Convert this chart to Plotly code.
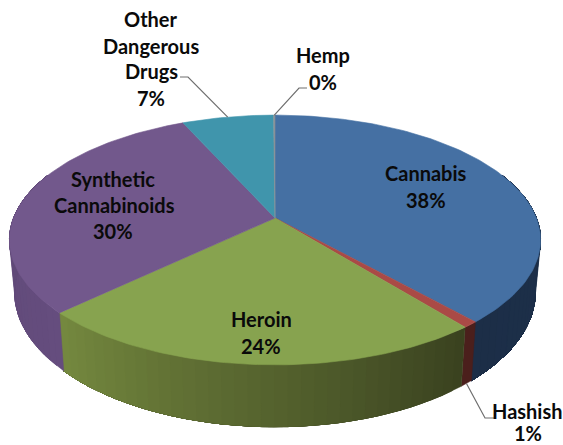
import math
import plotly.graph_objects as go

# Drug seizure shares, clockwise from twelve o'clock
categories = ["Cannabis", "Hashish", "Heroin", "Synthetic Cannabinoids", "Other Dangerous Drugs", "Hemp"]
shares = [38.4, 0.8, 23.7, 30.4, 6.6, 0.1]
top_colors = ["#4570a3", "#aa4a46", "#87a34f", "#72588c", "#4095ac", "#8b9298"]
wall_start = ["#1f3450", "#4b1f1c", "#75893f", "#654d7e", "#3a7488", "#666666"]
wall_end = ["#1c2e47", "#4b1f1c", "#39411f", "#5a4470", "#3a7488", "#666666"]

# Label lines: (text, x centre, y centre)
label_lines = [
    ("Cannabis", 426, 173), ("38%", 426, 200),
    ("Hashish", 527, 411), ("1%", 528, 433),
    ("Heroin", 261, 319), ("24%", 261, 346),
    ("Synthetic", 113, 179), ("Cannabinoids", 114, 205), ("30%", 113, 231),
    ("Other", 151, 19), ("Dangerous", 151, 46), ("Drugs", 151, 71), ("7%", 151, 98),
    ("Hemp", 323, 55), ("0%", 323, 82),
]
# Leader elbows per slice index: (elbow x, elbow y, end x, end y)
leaders = {1: (485, 418, 494, 418), 4: (188, 77, 180, 77), 5: (299, 88, 307, 88)}

# Perspective pie geometry
CX, CY = 275.0, 218.0
RX, RY = 261.4, 121.0
TILT = 0.176
WALL = 51.0
BASE_SHRINK = 0.02


def rim(share_pct, drop=0.0):
    """Screen position of the rim at a cumulative percentage, clockwise from the top."""
    t = 2 * math.pi * share_pct / 100
    a, d = math.sin(t), -math.cos(t)
    w = 1 - TILT * d
    scale = 1 - BASE_SHRINK * drop / WALL
    return CX + scale * RX * a / w, CY + (RY * d + drop) / w


def mix(c1, c2, f):
    p = [int(c1[i:i + 2], 16) for i in (1, 3, 5)]
    q = [int(c2[i:i + 2], 16) for i in (1, 3, 5)]
    return "#%02x%02x%02x" % tuple(round(p[i] + (q[i] - p[i]) * f) for i in range(3))


fig = go.Figure()
starts = [sum(shares[:i]) for i in range(len(shares))]

# Side wall: each band runs to the end of its slice and the next band paints
# over it, which keeps the shading free of seams between bands
for i, (s, v) in enumerate(zip(starts, shares)):
    n = max(1, int(v * 1.5))
    for k in range(n):
        # Heroin runs right-to-left along the front, so shade from its far end
        f = (k + 0.5) / n
        color = mix(wall_end[i], wall_start[i], f) if i == 2 else mix(wall_start[i], wall_end[i], f)
        steps = [s + v * j / n for j in range(k, n + 1)]
        steps = [p for p in steps if -math.cos(2 * math.pi * p / 100) > -0.4]
        if len(steps) < 2:
            continue
        upper = [rim(p) for p in steps]
        lower = [rim(p, WALL) for p in reversed(steps)]
        outline = upper + lower + upper[:1]
        fig.add_trace(go.Scatter(
            x=[p[0] for p in outline], y=[p[1] for p in outline],
            mode="lines", fill="toself", fillcolor=color,
            line=dict(color=color, width=0.5), hoverinfo="skip", showlegend=False))

# Top faces
for i, (s, v) in enumerate(zip(starts, shares)):
    n = max(2, int(v * 3))
    pts = [rim(s + v * k / n) for k in range(n + 1)]
    xs = [CX] + [p[0] for p in pts] + [CX]
    ys = [CY] + [p[1] for p in pts] + [CY]
    fig.add_trace(go.Scatter(
        x=xs, y=ys, mode="lines", fill="toself", fillcolor=top_colors[i],
        line=dict(color=top_colors[i], width=0.6), name=categories[i],
        hoverinfo="skip", showlegend=False))

# Leader lines for the labels outside the pie
for i, (ex, ey, fx, fy) in leaders.items():
    mid = starts[i] + shares[i] / 2
    drop = WALL if i == 1 else 0.0
    sx, sy = rim(mid, drop)
    fig.add_trace(go.Scatter(
        x=[sx, ex, fx], y=[sy, ey, fy], mode="lines",
        line=dict(color="#6e6e6e", width=1.2), hoverinfo="skip", showlegend=False))

for text, x, y in label_lines:
    fig.add_annotation(x=x, y=y, text=f"<b>{text}</b>", showarrow=False,
                       xanchor="center", yanchor="middle",
                       font=dict(family="Lato", size=20, color="#0a0a0a"))

fig.update_layout(
    width=563, height=445, margin=dict(l=0, r=0, t=0, b=0),
    paper_bgcolor="white", plot_bgcolor="white",
    xaxis=dict(range=[0, 563], visible=False, fixedrange=True),
    yaxis=dict(range=[445, 0], visible=False, fixedrange=True),
)
fig.write_html("out.html", config=dict(displayModeBar=False))
